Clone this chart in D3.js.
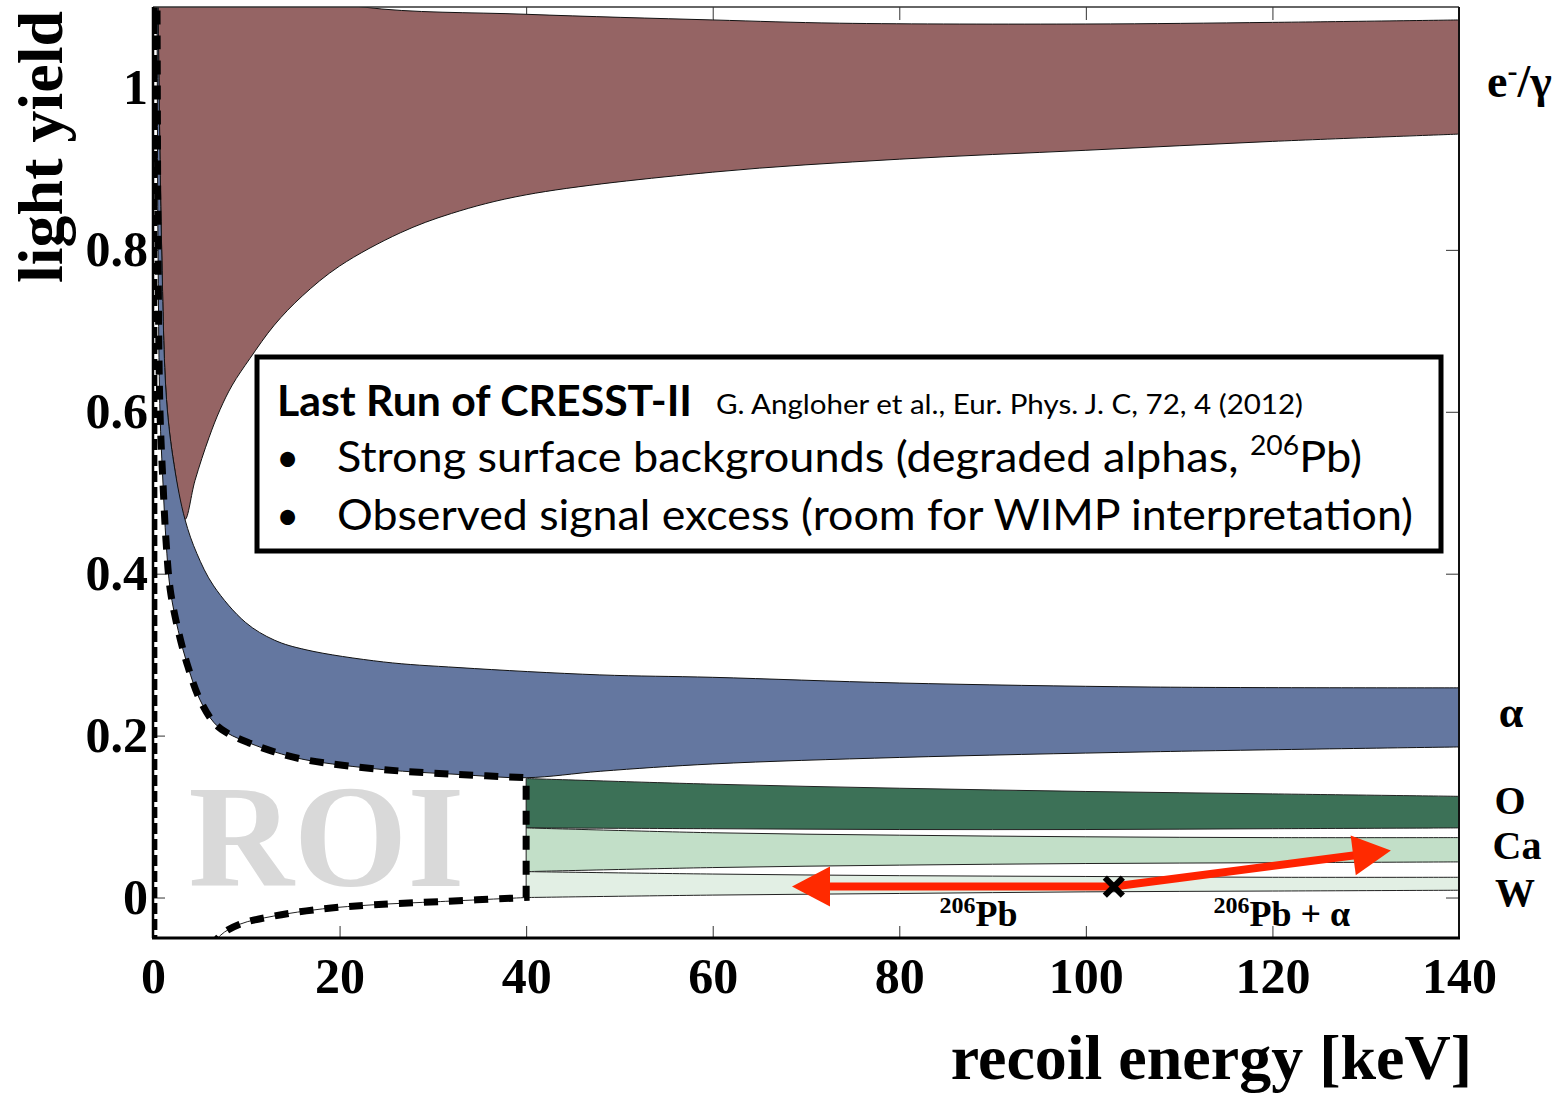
<!DOCTYPE html>
<html>
<head>
<meta charset="utf-8">
<script src="https://cdn.jsdelivr.net/npm/d3@7"></script>
<style>
  html, body { margin: 0; padding: 0; background: #fff; }
  svg { display: block; }
  .serif { font-family: "Liberation Serif", "Times New Roman", serif; font-weight: bold; }
  .sans { font-family: Lato, "Open Sans", sans-serif; }
</style>
</head>
<body>
<svg id="chart" width="1566" height="1093"></svg>
<script>
// e-/gamma band (light yield vs recoil energy, keV)
const egUpperE = [0.3, 10, 22.5, 40, 60, 73.6, 100, 120, 140];
const egUpperY = [1.3, 1.13, 1.1, 1.091, 1.084, 1.08, 1.079, 1.081, 1.084];
const egLowerE = [3.43, 4.5, 6, 7.2, 8.5, 10.4, 13, 16, 20, 26.5, 32, 40, 60, 80, 100, 120, 140];
const egLowerY = [0.467, 0.515, 0.568, 0.603, 0.633, 0.666, 0.707, 0.743, 0.78, 0.821, 0.845, 0.868, 0.896, 0.912, 0.923, 0.934, 0.943];

// alpha band
const alphaUpperE = [0.45, 0.55, 0.93, 1.45, 2.25, 3.43, 4.7, 6.5, 9.9, 13, 16.4, 24.7, 32.8, 47.9, 60, 80, 107, 140];
const alphaUpperY = [1.25, 1.1, 0.8, 0.615, 0.535, 0.467, 0.425, 0.385, 0.34, 0.318, 0.306, 0.291, 0.284, 0.275, 0.272, 0.265, 0.26, 0.259];
const alphaLowerE = [0.35, 0.43, 0.54, 0.75, 1.07, 1.4, 1.85, 2.7, 3.75, 5, 6.54, 8, 10.3, 13, 16.4, 24.7, 32.8, 40, 48, 60, 80, 107, 140];
const alphaLowerY = [1.25, 1.1, 0.8, 0.6, 0.512, 0.44, 0.38, 0.33, 0.285, 0.245, 0.216, 0.203, 0.191, 0.18, 0.17, 0.158, 0.152, 0.148, 0.156, 0.165, 0.173, 0.18, 0.186];

// nuclear recoil bands (O, Ca, W), drawn above the ROI edge
const nrE = [40, 60, 80, 100, 120, 140];
const oUpper = [0.147, 0.14, 0.135, 0.131, 0.128, 0.125];
const oLower = [0.086, 0.085, 0.084, 0.084, 0.085, 0.086];
const caUpper = [0.086, 0.08, 0.077, 0.075, 0.074, 0.074];
const caLower = [0.032, 0.037, 0.04, 0.042, 0.043, 0.044];
const wUpper = [0.032, 0.029, 0.027, 0.026, 0.025, 0.025];
const wLower = [0.0, 0.003, 0.005, 0.007, 0.008, 0.009];
// W lower edge continued below 40 keV (ROI bottom)
const wTailE = [5.5, 7.2, 9.3, 12.9, 18.2, 23.6, 30.8, 40];
const wTailY = [-0.075, -0.047, -0.033, -0.023, -0.014, -0.009, -0.005, 0.0];

// ROI energy limits
const roiE = [0.2, 40];

// 206Pb recoil decay
const pbOrigin = [103, 0.0136];
const pbRecoilTip = [68.5, 0.0136];
const pbAlphaTip = [132.7, 0.058];

const xTicks = [0, 20, 40, 60, 80, 100, 120, 140];
const yTicks = [0, 0.2, 0.4, 0.6, 0.8, 1];

const zip = (a, b) => a.map((v, i) => [v, b[i]]);

const svg = d3.select("#chart");
const x = d3.scaleLinear().domain([0, 140]).range([153, 1459]);
const y = d3.scaleLinear().domain([-0.05, 1.1]).range([938, 7]);

svg.append("rect").attr("width", 1566).attr("height", 1093).attr("fill", "#fff");

svg.append("defs").append("clipPath").attr("id", "plot")
  .append("rect").attr("x", 153).attr("y", 7).attr("width", 1306).attr("height", 931);

// ticks first, bands cover them
svg.append("g").attr("transform", `translate(0,${y(-0.05)})`)
  .call(d3.axisBottom(x).tickValues(xTicks).tickSize(-12).tickPadding(19).tickFormat(d3.format("d")))
  .call(g => g.select(".domain").remove())
  .call(g => g.selectAll("line").attr("stroke", "#333"))
  .call(g => g.selectAll("text").attr("class", "serif").attr("font-size", 50).attr("fill", "#000"));
svg.append("g").attr("transform", `translate(0,${y(1.1)})`)
  .call(d3.axisTop(x).tickValues(xTicks).tickSize(-13).tickFormat(""))
  .call(g => g.select(".domain").remove())
  .call(g => g.selectAll("line").attr("stroke", "#333"));
svg.append("g").attr("transform", `translate(${x(0)},0)`)
  .call(d3.axisLeft(y).tickValues(yTicks).tickSize(-12).tickPadding(5).tickFormat(d3.format("~g")))
  .call(g => g.select(".domain").remove())
  .call(g => g.selectAll("line").attr("stroke", "#333"))
  .call(g => g.selectAll("text").attr("class", "serif").attr("font-size", 50).attr("fill", "#000"));
svg.append("g").attr("transform", `translate(${x(140)},0)`)
  .call(d3.axisRight(y).tickValues(yTicks).tickSize(-13).tickFormat(""))
  .call(g => g.select(".domain").remove())
  .call(g => g.selectAll("line").attr("stroke", "#333"));

const curve = d3.curveCatmullRom.alpha(0.5);
const line = d3.line().x(d => x(d[0])).y(d => y(d[1])).curve(curve);
function band(upper, lower) {
  return line(upper) + line(lower.slice().reverse()).replace(/^M/, "L") + "Z";
}

const plot = svg.append("g").attr("clip-path", "url(#plot)");

// e-/gamma band; its left edge below the cusp is the alpha upper edge
const alphaUp = zip(alphaUpperE, alphaUpperY);
const egLowerFull = alphaUp.filter(d => d[0] < egLowerE[0]).concat(zip(egLowerE, egLowerY));
plot.append("path")
  .attr("d", band(zip(egUpperE, egUpperY), egLowerFull))
  .attr("fill", "#956464").attr("stroke", "#111").attr("stroke-width", 1);

plot.append("path")
  .attr("d", band(alphaUp, zip(alphaLowerE, alphaLowerY)))
  .attr("fill", "#6477a0").attr("stroke", "#111").attr("stroke-width", 1);

const nrBands = [
  { hi: oUpper, lo: oLower, color: "#3c7157" },
  { hi: caUpper, lo: caLower, color: "#c2dfc8" },
  { hi: wUpper, lo: wLower, color: "#e2efe4" },
];
nrBands.forEach(b => {
  plot.append("path")
    .attr("d", band(zip(nrE, b.hi), zip(nrE, b.lo)))
    .attr("fill", b.color).attr("stroke", "#222").attr("stroke-width", 1);
});

// W lower edge continued under the ROI
plot.append("path")
  .attr("d", line(zip(wTailE, wTailY)))
  .attr("fill", "none").attr("stroke", "#222").attr("stroke-width", 1);

// ROI label
plot.append("text").attr("class", "serif")
  .attr("x", x(3.8)).attr("y", y(0.014))
  .attr("font-size", 146).attr("fill", "#d9d9d9")
  .text("ROI");

// ROI boundary: dashed
plot.append("line")
  .attr("x1", x(roiE[0])).attr("x2", x(roiE[0]))
  .attr("y1", y(1.1)).attr("y2", y(-0.05))
  .attr("stroke", "#000").attr("stroke-width", 5).attr("stroke-dasharray", "11,5");

const roiTop = zip(alphaLowerE, alphaLowerY).filter(d => d[0] <= roiE[1]);
const roiBottom = zip(wTailE, wTailY).slice().reverse();
const roiPath = line(roiTop) + line(roiBottom).replace(/^M/, "L");
plot.append("path")
  .attr("d", roiPath)
  .attr("fill", "none").attr("stroke", "#000").attr("stroke-width", 7)
  .attr("stroke-dasharray", "14,11");

// Pb recoil arrows
function arrow(from, to) {
  const x0 = x(from[0]), y0 = y(from[1]), x1 = x(to[0]), y1 = y(to[1]);
  const len = Math.hypot(x1 - x0, y1 - y0), ux = (x1 - x0) / len, uy = (y1 - y0) / len;
  const headL = 38, headW = 20;
  const bx = x1 - ux * headL, by = y1 - uy * headL;
  plot.append("line")
    .attr("x1", x0).attr("y1", y0).attr("x2", bx + ux * 2).attr("y2", by + uy * 2)
    .attr("stroke", "#ff2200").attr("stroke-width", 8);
  plot.append("path")
    .attr("d", `M${x1},${y1}L${bx - uy * headW},${by + ux * headW}L${bx + uy * headW},${by - ux * headW}Z`)
    .attr("fill", "#ff2a00");
}
arrow(pbOrigin, pbRecoilTip);
arrow(pbOrigin, pbAlphaTip);

const cx = x(pbOrigin[0]), cy = y(pbOrigin[1]);
[[-9, -9, 9, 9], [-9, 9, 9, -9]].forEach(([a, b, c, d]) => {
  plot.append("line")
    .attr("x1", cx + a).attr("y1", cy + b).attr("x2", cx + c).attr("y2", cy + d)
    .attr("stroke", "#000").attr("stroke-width", 6);
});

function supLabel(g, e, ly, parts, anchor) {
  const t = g.append("text").attr("class", "serif")
    .attr("x", x(e)).attr("y", y(ly)).attr("text-anchor", anchor || "middle");
  parts.forEach(p => {
    const s = t.append("tspan").text(p.text).attr("font-size", p.size);
    if (p.dy) s.attr("dy", p.dy);
  });
  return t;
}
supLabel(svg, 88.5, -0.035, [
  { text: "206", size: 24, dy: -13 }, { text: "Pb", size: 36, dy: 13 }]);
supLabel(svg, 121, -0.035, [
  { text: "206", size: 24, dy: -13 }, { text: "Pb + α", size: 36, dy: 13 }]);

// frame
svg.append("line").attr("x1", x(0)).attr("x2", x(140)).attr("y1", y(1.1)).attr("y2", y(1.1))
  .attr("stroke", "#333").attr("stroke-width", 1.5);
svg.append("line").attr("x1", x(140)).attr("x2", x(140)).attr("y1", y(1.1)).attr("y2", y(-0.05))
  .attr("stroke", "#111").attr("stroke-width", 2);
svg.append("line").attr("x1", x(0)).attr("x2", x(0)).attr("y1", y(1.1)).attr("y2", y(-0.05))
  .attr("stroke", "#000").attr("stroke-width", 2.5);
svg.append("line").attr("x1", x(0) - 1).attr("x2", x(140) + 1).attr("y1", y(-0.05)).attr("y2", y(-0.05))
  .attr("stroke", "#000").attr("stroke-width", 3);

// band labels on the right
const rx = x(140);
const rightLabels = svg.append("g").attr("class", "serif").attr("font-size", 40);
const eg = rightLabels.append("text").attr("x", rx + 28).attr("y", 97).attr("font-size", 46);
eg.append("tspan").text("e");
eg.append("tspan").text("-").attr("font-size", 30).attr("dy", -16);
eg.append("tspan").text("/γ").attr("dy", 16);
rightLabels.append("text").attr("x", rx + 52).attr("y", 727).attr("font-size", 44).attr("text-anchor", "middle").text("α");
rightLabels.append("text").attr("x", rx + 51).attr("y", 814).attr("text-anchor", "middle").text("O");
rightLabels.append("text").attr("x", rx + 58).attr("y", 859).attr("text-anchor", "middle").text("Ca");
rightLabels.append("text").attr("x", rx + 56).attr("y", 906).attr("text-anchor", "middle").text("W");

// axis titles
svg.append("text").attr("class", "serif").attr("font-size", 64)
  .attr("transform", "translate(62,147) rotate(-90)").attr("text-anchor", "middle")
  .text("light yield");
svg.append("text").attr("class", "serif").attr("font-size", 64)
  .attr("x", 1472).attr("y", 1079).attr("text-anchor", "end")
  .text("recoil energy [keV]");

// info box
const box = svg.append("g");
box.append("rect").attr("x", 257).attr("y", 357).attr("width", 1184).attr("height", 194)
  .attr("fill", "#fff").attr("stroke", "#000").attr("stroke-width", 5);
box.append("text").attr("class", "sans").attr("font-weight", 700).attr("font-size", 42)
  .attr("x", 277).attr("y", 416).attr("textLength", 415).attr("lengthAdjust", "spacingAndGlyphs")
  .text("Last Run of CRESST-II");
box.append("text").attr("class", "sans").attr("font-size", 26)
  .attr("x", 716).attr("y", 414).attr("textLength", 587).attr("lengthAdjust", "spacingAndGlyphs")
  .text("G. Angloher et al., Eur. Phys. J. C, 72, 4 (2012)");
[472, 530].forEach(by => {
  box.append("text").attr("class", "sans").attr("font-size", 40)
    .attr("x", 276).attr("y", by).text("•");
});
const l1 = box.append("text").attr("class", "sans").attr("font-size", 43)
  .attr("x", 337).attr("y", 472).attr("textLength", 1025).attr("lengthAdjust", "spacingAndGlyphs");
l1.append("tspan").text("Strong surface backgrounds (degraded alphas, ");
l1.append("tspan").text("206").attr("font-size", 27).attr("dy", -17);
l1.append("tspan").text("Pb)").attr("dy", 17);
box.append("text").attr("class", "sans").attr("font-size", 43)
  .attr("x", 337).attr("y", 530).attr("textLength", 1076).attr("lengthAdjust", "spacingAndGlyphs")
  .text("Observed signal excess (room for WIMP interpretation)");
</script>
</body>
</html>
